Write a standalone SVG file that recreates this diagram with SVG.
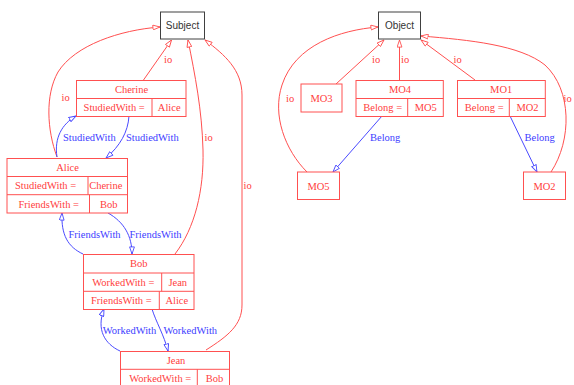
<svg xmlns="http://www.w3.org/2000/svg" width="574" height="385" viewBox="0 0 574 385">
<defs>
<style>
.bg{fill:#ffffff}
.cls{fill:#ffffff;stroke:#404040;stroke-width:1}
.clst{font-size:10px;fill:#333333;text-anchor:middle}
.box{fill:#ffffff;stroke:#ff5050;stroke-width:1}
.div{stroke:#ff5050;stroke-width:1;fill:none}
.t{font-size:10.5px;fill:#ff4040;text-anchor:middle}
.io{font-size:10.5px;fill:#ff4040}
.bl{font-size:10.5px;fill:#4040ff}
.er{fill:none;stroke:#ff5050;stroke-width:1;marker-end:url(#ar)}
.eb{fill:none;stroke:#4a4aff;stroke-width:1;marker-end:url(#ab)}
</style>
<marker id="ar" viewBox="0 0 8 6" refX="7.6" refY="3" markerWidth="8" markerHeight="6" markerUnits="userSpaceOnUse" orient="auto">
<path d="M0.5,0.6 L7.6,3 L0.5,5.4 Z" fill="#ffffff" stroke="#ff5050" stroke-width="0.9"/>
</marker>
<marker id="ab" viewBox="0 0 8 6" refX="7.6" refY="3" markerWidth="8" markerHeight="6" markerUnits="userSpaceOnUse" orient="auto">
<path d="M0.5,0.6 L7.6,3 L0.5,5.4 Z" fill="#ffffff" stroke="#4a4aff" stroke-width="0.9"/>
</marker>
</defs>
<rect class="bg" x="0" y="0" width="574" height="385"/>

<g id="connectors" font-family="'Liberation Serif', 'DejaVu Serif', serif">
<path class="er" d="M143.5,80 L171.5,40"/>
<text class="io" x="164" y="63">io</text>
<path class="er" d="M57,157 C47,130 45,95 58,72 C75,45 120,30 160,27"/>
<text class="io" x="61.5" y="101">io</text>
<path class="er" d="M175,254 C195,228 204,190 203,150 C202,110 195,75 188,40"/>
<text class="io" x="204.5" y="140.5">io</text>
<path class="er" d="M206,350 C228,336 242,325 242,305 L242,95 C242,70 225,55 205,40"/>
<text class="io" x="243.5" y="188.5">io</text>

<path class="eb" d="M129,116 C128,132 120,146 106,158"/>
<text class="bl" x="126" y="140.5">StudiedWith</text>
<path class="eb" d="M57,157 C54,138 62,124 76,116"/>
<text class="bl" x="63" y="140.5">StudiedWith</text>
<path class="eb" d="M108,213 C124,222 132,236 132,254"/>
<text class="bl" x="129.5" y="237.5">FriendsWith</text>
<path class="eb" d="M83,254 C68,247 61,235 62,213"/>
<text class="bl" x="68.5" y="237.5">FriendsWith</text>
<path class="eb" d="M152,309 C156,322 164,335 168,351"/>
<text class="bl" x="163.5" y="333.5">WorkedWith</text>
<path class="eb" d="M120,351 C105,344 96,330 104,309"/>
<text class="bl" x="102.7" y="333.5">WorkedWith</text>

<path class="er" d="M336,84 L384,40"/>
<text class="io" x="372" y="63">io</text>
<path class="er" d="M307,172 C285,150 272,115 282,85 C295,45 340,30 378,27"/>
<text class="io" x="286" y="102">io</text>
<path class="er" d="M399.5,80 L399.5,40"/>
<text class="io" x="401" y="63">io</text>
<path class="er" d="M475,80 L421,40"/>
<text class="io" x="453.5" y="63">io</text>
<path class="er" d="M551,172 C572,140 572,90 545,65 C520,45 470,40 421,36"/>
<text class="io" x="563.5" y="102">io</text>
<path class="eb" d="M382,116 L333,172"/>
<text class="bl" x="370" y="140.5">Belong</text>
<path class="eb" d="M510,116 L537,172"/>
<text class="bl" x="524.5" y="140.5">Belong</text>
</g>

<g id="Subject" font-family="'Liberation Sans', Arial, sans-serif">
<rect class="cls" x="160.5" y="12" width="44" height="27"/>
<text class="clst" x="182.5" y="29">Subject</text>
</g>
<g id="Object" font-family="'Liberation Sans', Arial, sans-serif">
<rect class="cls" x="378.5" y="12" width="42" height="27"/>
<text class="clst" x="399.5" y="29">Object</text>
</g>

<g id="Cherine" font-family="'Liberation Serif', 'DejaVu Serif', serif">
<rect class="box" x="76.5" y="80.5" width="109.5" height="36"/>
<path class="div" d="M76.5,98.5 H186 M152,98.5 V116.5"/>
<text class="t" x="131.5" y="92.8">Cherine</text>
<text class="t" x="114.2" y="110.8">StudiedWith =</text>
<text class="t" x="169.2" y="110.8">Alice</text>
</g>

<g id="Alice" font-family="'Liberation Serif', 'DejaVu Serif', serif">
<rect class="box" x="7" y="158.5" width="120.5" height="54.5"/>
<path class="div" d="M7,176.5 H127.5 M7,194.7 H127.5 M88,176.5 V194.7 M89.5,194.7 V213"/>
<text class="t" x="67.5" y="171">Alice</text>
<text class="t" x="45.5" y="189.2">StudiedWith =</text>
<text class="t" x="105.8" y="189.2">Cherine</text>
<text class="t" x="48.7" y="207.5">FriendsWith =</text>
<text class="t" x="108.7" y="207.5">Bob</text>
</g>

<g id="Bob" font-family="'Liberation Serif', 'DejaVu Serif', serif">
<rect class="box" x="83.5" y="254.5" width="110.5" height="55"/>
<path class="div" d="M83.5,273 H194 M83.5,291.3 H194 M161.7,273 V291.3 M159.3,291.3 V309.5"/>
<text class="t" x="138.7" y="267.3">Bob</text>
<text class="t" x="123.3" y="285.7">WorkedWith =</text>
<text class="t" x="177.8" y="285.7">Jean</text>
<text class="t" x="121.3" y="303.9">FriendsWith =</text>
<text class="t" x="176.8" y="303.9">Alice</text>
</g>

<g id="Jean" font-family="'Liberation Serif', 'DejaVu Serif', serif">
<rect class="box" x="120.5" y="351.5" width="109" height="36"/>
<path class="div" d="M120.5,369.3 H229.5 M197.3,369.3 V387.5"/>
<text class="t" x="176" y="363.8">Jean</text>
<text class="t" x="160.2" y="382">WorkedWith =</text>
<text class="t" x="214.5" y="382">Bob</text>
</g>

<g id="MO3" font-family="'Liberation Serif', 'DejaVu Serif', serif">
<rect class="box" x="301" y="84" width="41" height="28"/>
<text class="t" x="321.5" y="101.8">MO3</text>
</g>

<g id="MO4" font-family="'Liberation Serif', 'DejaVu Serif', serif">
<rect class="box" x="356" y="80.5" width="87.3" height="36"/>
<path class="div" d="M356,98.5 H443.3 M407.7,98.5 V116.5"/>
<text class="t" x="400" y="92.8">MO4</text>
<text class="t" x="382.7" y="110.8">Belong =</text>
<text class="t" x="425.8" y="110.8">MO5</text>
</g>

<g id="MO1" font-family="'Liberation Serif', 'DejaVu Serif', serif">
<rect class="box" x="457.5" y="80.5" width="87.8" height="36"/>
<path class="div" d="M457.5,98.5 H545.3 M509.3,98.5 V116.5"/>
<text class="t" x="501.2" y="92.8">MO1</text>
<text class="t" x="484.2" y="110.8">Belong =</text>
<text class="t" x="527.5" y="110.8">MO2</text>
</g>

<g id="MO5" font-family="'Liberation Serif', 'DejaVu Serif', serif">
<rect class="box" x="297.5" y="172" width="42" height="27.5"/>
<text class="t" x="318.5" y="189.5">MO5</text>
</g>

<g id="MO2" font-family="'Liberation Serif', 'DejaVu Serif', serif">
<rect class="box" x="523.5" y="172" width="42" height="27.5"/>
<text class="t" x="544.5" y="189.5">MO2</text>
</g>
</svg>
